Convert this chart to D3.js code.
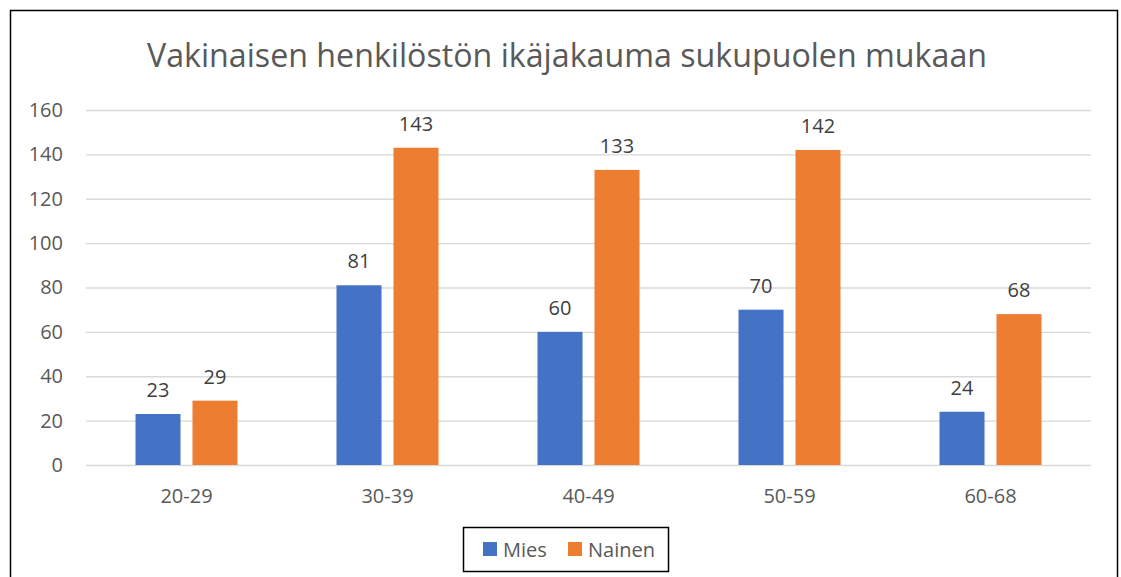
<!DOCTYPE html>
<html>
<head>
<meta charset="utf-8">
<script src="https://cdn.jsdelivr.net/npm/d3@7"></script>
<style>
  body { margin: 0; background: #fff; }
  svg { display: block; font-family: "Open Sans", "Noto Sans", sans-serif; }
</style>
</head>
<body>
<svg id="chart" width="1121" height="577"></svg>
<script>
const categories = ["20-29", "30-39", "40-49", "50-59", "60-68"];
const seriesNames = ["Mies", "Nainen"];
const mies = [23, 81, 60, 70, 24];
const nainen = [29, 143, 133, 142, 68];
const yTicks = [0, 20, 40, 60, 80, 100, 120, 140, 160];
const colors = ["#4472C4", "#ED7D31"];

const data = categories.map((c, i) => ({ cat: c, values: [mies[i], nainen[i]] }));

const svg = d3.select("#chart");
const margin = { top: 110, left: 86, right: 30, bottom: 112 };
const width = 1091 - margin.left;
const height = 465 - margin.top;

// outer frame
svg.append("rect")
    .attr("x", 10.5).attr("y", 10.5)
    .attr("width", 1107).attr("height", 580)
    .attr("fill", "#fff")
    .attr("stroke", "#000")
    .attr("stroke-width", 1.5);

svg.append("text")
    .attr("x", 567).attr("y", 67)
    .attr("text-anchor", "middle")
    .attr("fill", "#595959")
    .style("font-size", "32.2px")
    .text("Vakinaisen henkilöstön ikäjakauma sukupuolen mukaan");

const g = svg.append("g").attr("transform", `translate(${margin.left},${margin.top})`);

const y = d3.scaleLinear().domain([0, 160]).range([height, 0]);
const x = d3.scaleBand().domain(categories).range([0, width]);
const xInner = d3.scaleBand().domain(seriesNames).range([x.bandwidth() / 2 - 51, x.bandwidth() / 2 + 51]).paddingInner(0.21);

// gridlines
g.append("g")
    .selectAll("line")
    .data(yTicks)
    .join("line")
    .attr("x1", 0).attr("x2", width)
    .attr("y1", d => y(d) + 0.5).attr("y2", d => y(d) + 0.5)
    .attr("stroke", "#d9d9d9")
    .attr("stroke-width", 1.3);

const yAxis = g.append("g")
    .call(d3.axisLeft(y).tickValues(yTicks).tickSize(0).tickPadding(23));
yAxis.select(".domain").remove();
yAxis.selectAll("text")
    .attr("fill", "#595959")
    .style("font-size", "20px")
    .style("font-family", "'Open Sans', sans-serif");

const xAxis = g.append("g")
    .attr("transform", `translate(0,${height})`)
    .call(d3.axisBottom(x).tickSize(0).tickPadding(24));
xAxis.select(".domain").remove();
xAxis.selectAll("text")
    .attr("fill", "#595959")
    .style("font-size", "20px")
    .style("font-family", "'Open Sans', sans-serif");

const groups = g.selectAll(".grp")
    .data(data)
    .join("g")
    .attr("class", "grp")
    .attr("transform", d => `translate(${x(d.cat)},0)`);

groups.selectAll("rect")
    .data(d => d.values.map((v, i) => ({ key: seriesNames[i], v, i })))
    .join("rect")
    .attr("x", d => xInner(d.key))
    .attr("y", d => y(d.v))
    .attr("width", xInner.bandwidth())
    .attr("height", d => height - y(d.v))
    .attr("fill", d => colors[d.i]);

groups.selectAll(".lbl")
    .data(d => d.values.map((v, i) => ({ key: seriesNames[i], v, i })))
    .join("text")
    .attr("class", "lbl")
    .attr("x", d => xInner(d.key) + xInner.bandwidth() / 2)
    .attr("y", d => y(d.v) - 17)
    .attr("text-anchor", "middle")
    .attr("fill", "#404040")
    .style("font-size", "20px")
    .text(d => d.v);

// legend
const legend = svg.append("g").attr("transform", "translate(463,527)");
legend.append("rect")
    .attr("x", 0.5).attr("y", 0.5)
    .attr("width", 205).attr("height", 44)
    .attr("fill", "#fff")
    .attr("stroke", "#000")
    .attr("stroke-width", 1.5);
const legendX = [20, 105];
seriesNames.forEach((s, i) => {
    legend.append("rect")
        .attr("x", legendX[i]).attr("y", 15)
        .attr("width", 14).attr("height", 14)
        .attr("fill", colors[i]);
    legend.append("text")
        .attr("x", legendX[i] + 20).attr("y", 30)
        .attr("fill", "#595959")
        .style("font-size", "20px")
        .text(s);
});
</script>
</body>
</html>
